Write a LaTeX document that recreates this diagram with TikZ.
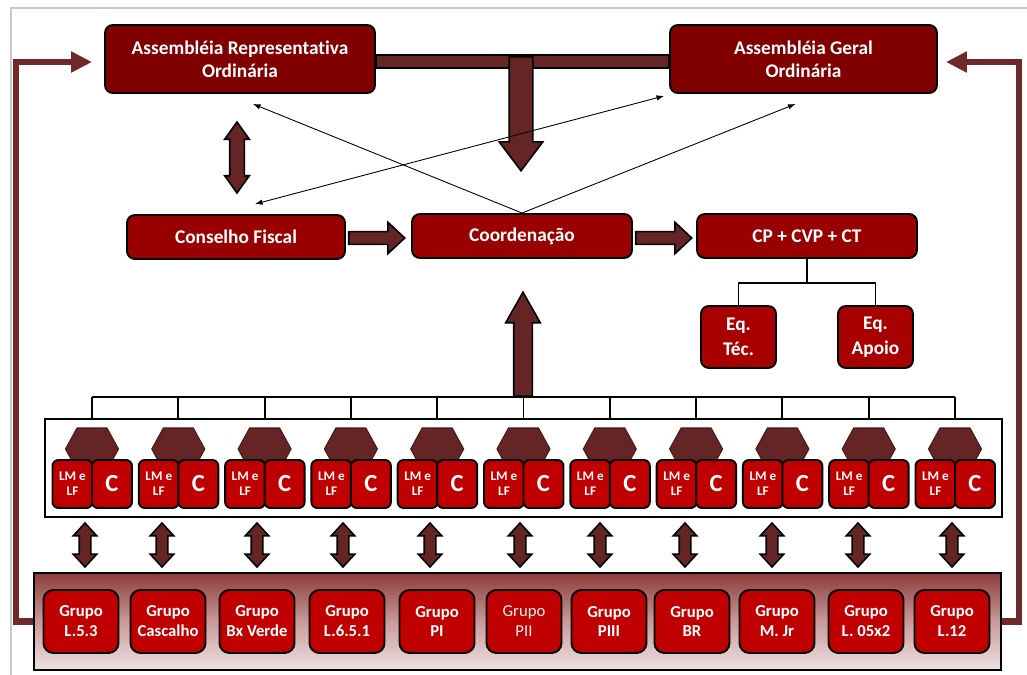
\documentclass[tikz,border=0pt]{standalone}
\usepackage{fontspec}
\setmainfont{Carlito}[Ligatures=NoCommon]
\usepackage{tikz}
\usetikzlibrary{arrows.meta,positioning,calc,shapes.arrows}
\definecolor{AssembRed}{HTML}{800000}
\definecolor{OrgRed}{HTML}{990000}
\definecolor{EqRed}{HTML}{A80000}
\definecolor{GrupoRed}{HTML}{C00000}
\definecolor{SetaBrown}{HTML}{652525}
\definecolor{LinkBrown}{HTML}{6E2A2A}
\definecolor{FaixaTop}{HTML}{8E3A3A}
\definecolor{FaixaMid}{HTML}{C99A9A}
\definecolor{FaixaBot}{HTML}{EFE2E2}
\definecolor{FrameGray}{HTML}{C8C8C8}
\tikzset{
  obox/.style={draw=black,rounded corners=1.6mm,line width=1.1pt,text=white,
    align=center,inner sep=0pt,font=\fontsize{11}{13}\selectfont\bfseries},
  topbox/.style={obox,fill=AssembRed,minimum height=1.36cm},
  midbox/.style={obox,fill=OrgRed,minimum width=4.4cm,minimum height=0.88cm},
  eqbox/.style={obox,fill=EqRed,minimum width=1.5cm,minimum height=1.24cm,
    font=\fontsize{11}{14.5}\selectfont\bfseries},
  unitbox/.style={obox,fill=GrupoRed,rounded corners=1.2mm,minimum width=0.8cm,
    minimum height=0.96cm,font=\fontsize{7.5}{8.5}\selectfont\bfseries},
  grupobox/.style={obox,fill=GrupoRed,rounded corners=2mm,minimum width=1.5cm,
    minimum height=1.26cm,font=\fontsize{9.5}{11.3}\selectfont\bfseries},
  hexa/.style={draw=SetaBrown!70!black,fill=SetaBrown,line width=0.6pt},
  fatarrow/.style={single arrow,draw=black,fill=SetaBrown,line width=0.9pt,inner xsep=0pt,anchor=tail},
  fatdouble/.style={double arrow,draw=black,fill=SetaBrown,line width=0.9pt,inner xsep=0pt},
  thinarrow/.style={-{Latex[length=1.5mm,width=1.1mm]},line width=0.5pt},
  treeline/.style={line width=1.1pt},
  feedback/.style={-{Triangle[length=4.2mm,width=4mm]},LinkBrown,line width=3.8pt}
}
\begin{document}
\begin{tikzpicture}[x=0.2mm,y=-0.2mm]
  \path[use as bounding box] (0,0) rectangle (1027,675);
  \draw[FrameGray,line width=0.8pt] (11,675) -- (11,8) -- (1027,8);

  % assembleias
  \node[topbox,minimum width=5.4cm] (aro) at (240,59) {Assembléia Representativa\\Ordinária};
  \node[topbox,minimum width=5.34cm] (ago) at (803.5,59) {Assembléia Geral\\Ordinária};
  \draw[draw=black,fill=SetaBrown,line width=0.9pt] ($(aro.east)+(0,-4)$) rectangle ($(ago.west)+(0,9)$);
  \node[fatarrow,rotate=-90,minimum height=2.28cm,minimum width=0.84cm,inner ysep=0.22cm,
    single arrow head extend=0.2cm,single arrow tip angle=74] (desce) at (521,56) {};

  % orgaos
  \node[midbox,minimum width=4.36cm] (conselho) at (236,237) {Conselho Fiscal};
  \node[midbox] (coord) at (522,236) {Coordenação};
  \node[midbox] (cp) at (807,236) {CP + CVP + CT};
  \node[eqbox] (eqtec) at (738.5,337) {Eq.\\Téc.};
  \node[eqbox] (eqapoio) at (875.5,337) {Eq.\\Apoio};
  \draw[treeline] (cp.south) -- ++(0,24) coordinate (cpj);
  \draw[treeline] (eqtec.north) |- (cpj) -| (eqapoio.north);

  \node[fatarrow,minimum height=1.12cm,minimum width=0.6cm,inner ysep=0.11cm,
    single arrow head extend=0.19cm,single arrow tip angle=86] (sa) at ($(conselho.east)+(2,1)$) {};
  \node[fatarrow,minimum height=1.12cm,minimum width=0.6cm,inner ysep=0.11cm,
    single arrow head extend=0.19cm,single arrow tip angle=86] (sb) at ($(coord.east)+(2,2)$) {};
  \node[fatdouble,rotate=90,minimum height=1.42cm,minimum width=0.46cm,inner ysep=0.13cm,
    double arrow head extend=0.1cm,double arrow tip angle=71] (dcf) at (237,157.5) {};

  \draw[thinarrow] (coord.north) -- ($(aro.south)+(13,10)$);
  \draw[thinarrow] (coord.north) -- ($(ago.south)+(-8,10)$);
  \draw[thinarrow,{Latex[length=1.5mm,width=1.1mm]}-{Latex[length=1.5mm,width=1.1mm]}]
    ($(conselho.north)+(19,-10)$) -- ($(ago.south west)+(-5,2)$);

  % nucleos
  \node[draw=black,line width=1.2pt,fill=white,minimum width=19.14cm,minimum height=1.96cm,
    inner sep=0pt] (linha) at (523.5,468) {};
  \foreach \i [evaluate=\i as \cx using 92+86.3*\i] in {0,...,10}{
    \coordinate (t\i) at (\cx,397);
    \draw[treeline] (t\i) -- (t\i |- linha.north);
    \draw[hexa] (\cx-26.5,449) -- (\cx-15,428) -- (\cx+15,428) -- (\cx+26.5,449)
      -- (\cx+15,470) -- (\cx-15,470) -- cycle;
    \node[unitbox] (lm\i) at (\cx-19.5,484) {LM e\\LF};
    \node[unitbox,font=\fontsize{14}{14}\selectfont\bfseries] (c\i) at (\cx+20,484) {C};
  }
  \draw[treeline] (t0) -- (t10);
  \node[fatarrow,rotate=90,minimum height=2.08cm,minimum width=0.66cm,inner ysep=0.17cm,
    single arrow head extend=0.16cm,single arrow tip angle=59] (sobe) at (523,397) {};

  % grupos
  \node[draw=black,line width=1.2pt,top color=FaixaTop,bottom color=FaixaBot,middle color=FaixaMid,
    minimum width=19.34cm,minimum height=1.94cm,inner sep=0pt] (grupos) at (517.5,621.5) {};
  \foreach \gx/\nome [count=\j] in {81/L.5.3,168/Cascalho,257/Bx Verde,347/L.6.5.1,437/PI,
      609/PIII,692/BR,777/M. Jr,866/L. 05x2,952/L.12}
    \node[grupobox] (g\j) at (\gx,621.5) {Grupo\\\nome};
  \node[grupobox,font=\fontsize{9.5}{11.3}\selectfont,text=white!88!gray] (gpii) at (524,621.5) {Grupo\\PII};

  \foreach \ax [count=\j] in {85,162,257,343,430,520,600,685,772,858,952}
    \node[fatdouble,rotate=90,minimum height=0.88cm,minimum width=0.44cm,inner ysep=0.1cm,
      double arrow head extend=0.12cm,double arrow tip angle=85] (d\j) at (\ax,545) {};

  \draw[feedback] (grupos.west) -- ++(-17,0) |- ($(aro.west)+(-12,3)$);
  \draw[feedback] (grupos.east) -- ++(17,0) |- ($(ago.east)+(8,3)$);
\end{tikzpicture}
\end{document}
